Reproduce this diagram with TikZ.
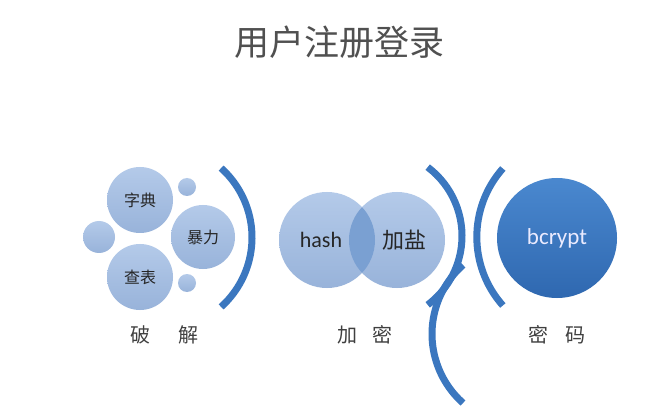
\documentclass[tikz,border=0pt]{standalone}
\usepackage{fontspec}
\newfontfamily\cjk{Noto Sans CJK SC}
\newfontfamily\calfont{Carlito}
\definecolor{ltop}{HTML}{B4CAE9}
\definecolor{lbot}{HTML}{98B3DA}
\definecolor{vmid}{HTML}{7AA0D2}
\definecolor{btop}{HTML}{4A88CF}
\definecolor{bbot}{HTML}{2F68B0}
\definecolor{arcblue}{HTML}{3B77BF}
\definecolor{titlegray}{HTML}{505050}
\definecolor{labelgray}{HTML}{404040}
\begin{document}
\begin{tikzpicture}[x=1pt,y=-1pt,
  lightball/.style={circle,inner sep=0pt,minimum size=#1,top color=ltop,bottom color=lbot,draw=none,
    text=black!85,font=\cjk\fontsize{16}{18}\selectfont},
  darkball/.style={circle,inner sep=0pt,minimum size=#1,top color=btop,bottom color=bbot,draw=none,
    text=white!92!blue,font=\calfont\fontsize{23}{26}\selectfont},
  grouplabel/.style={text=labelgray,font=\cjk\fontsize{20}{22}\selectfont,inner sep=0pt},
  bracketarc/.style={draw=arcblue,line width=7pt,line cap=butt}]
\fill[white] (0,0) rectangle (668,419);
\useasboundingbox (0,0) rectangle (668,419);
% title
\node[text=titlegray,font=\cjk\fontsize{35}{40}\selectfont,inner sep=0pt] (title) at (339,42) {用户注册登录};
% left group
\node[lightball=66pt] (dict) at (140,200) {字典};
\node[lightball=64pt] (brute) at (203,237) {暴力};
\node[lightball=66pt] (table) at (140,277) {查表};
\node[lightball=32pt] (sA) at (99,237) {};
\node[lightball=18pt] (sB) at (187,187) {};
\node[lightball=18pt] (sC) at (187,283) {};
\draw[bracketarc] (158.6,237.5) ++(-48:93.4) arc[start angle=-48,end angle=48,radius=93.4];
\node[grouplabel] (crack) at (164,335) {破\hspace{28pt}解};
% middle group
\node[lightball=96pt,font=\calfont\fontsize{22}{24}\selectfont] (hash) at (327,240) {\hspace*{-12pt}hash};
\node[lightball=96pt,font=\cjk\fontsize{22}{24}\selectfont] (salt) at (397,240) {\hspace*{14pt}加盐};
\begin{scope}
  \clip (hash.center) circle[radius=48];
  \fill[vmid] (salt.center) circle[radius=48];
\end{scope}
\draw[bracketarc] (375.8,236) ++(-53:86.2) arc[start angle=-53,end angle=53,radius=86.2];
\draw[bracketarc] (524.3,334) ++(131.6:92.3) arc[start angle=131.6,end angle=228.4,radius=92.3];
\node[grouplabel] (encrypt) at (364.5,335) {加\hspace{15pt}密};
% right group
\draw[bracketarc] (580,237) ++(138.4:103.2) arc[start angle=138.4,end angle=221.6,radius=103.2];
\node[darkball=120pt] (bcrypt) at (557,238) {bcrypt};
\node[grouplabel] (pwd) at (556.5,335) {密\hspace{17pt}码};
\end{tikzpicture}
\end{document}
